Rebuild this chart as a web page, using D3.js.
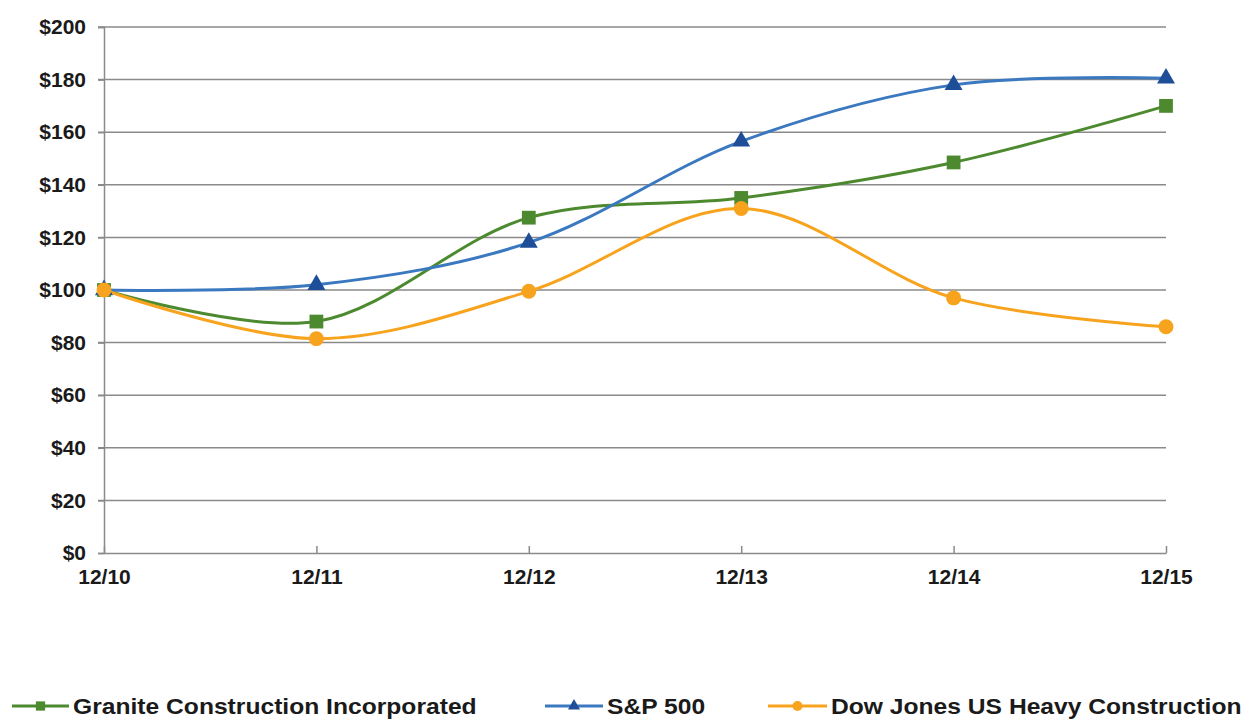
<!DOCTYPE html>
<html>
<head>
<meta charset="utf-8">
<script src="https://cdn.jsdelivr.net/npm/d3@7"></script>
<style>
  body { margin: 0; background: #fff; }
  text { font-family: "Liberation Sans", Arial, sans-serif; }
</style>
</head>
<body>
<svg id="chart" width="1252" height="721"></svg>
<script>
// categories and series
const years = ["12/10", "12/11", "12/12", "12/13", "12/14", "12/15"];
const granite = [100, 88, 127.5, 135, 148.5, 170];
const sp500 = [100, 102, 118, 156.5, 178, 180.5];
const dowJones = [100, 81.5, 99.5, 131, 97, 86];
const yTicks = [0, 20, 40, 60, 80, 100, 120, 140, 160, 180, 200];

const series = [
  { name: "Granite Construction Incorporated", values: granite, line: "#4d8a2f", marker: "#4d8a2f", shape: "square" },
  { name: "S&P 500", values: sp500, line: "#3a78c0", marker: "#1f4e99", shape: "triangle" },
  { name: "Dow Jones US Heavy Construction", values: dowJones, line: "#f8a31d", marker: "#f8a31d", shape: "circle" }
];

const margin = { top: 27, left: 104, right: 86, bottom: 168 };
const width = 1252, height = 721;
const innerWidth = width - margin.left - margin.right;
const innerHeight = height - margin.top - margin.bottom;

const svg = d3.select("#chart");
const g = svg.append("g").attr("transform", `translate(${margin.left},${margin.top})`);

const x_Scale = d3.scalePoint().domain(years).range([0, innerWidth]);
const y_Scale = d3.scaleLinear().domain([0, 200]).range([innerHeight, 0]);

// gridlines
g.selectAll(".grid")
  .data(yTicks.filter(d => d > 0))
  .join("line")
  .attr("class", "grid")
  .attr("x1", -6).attr("x2", innerWidth)
  .attr("y1", d => y_Scale(d)).attr("y2", d => y_Scale(d))
  .attr("stroke", "#8a8a8a").attr("stroke-width", 1.5);

// Y axis
const yAxis = g.append("g")
  .call(d3.axisLeft(y_Scale).tickValues(yTicks).tickFormat(d => "$" + d).tickSize(6).tickPadding(12));
yAxis.select(".domain").attr("stroke", "#8a8a8a").attr("stroke-width", 1.5);
yAxis.selectAll(".tick line").attr("stroke", "#8a8a8a").attr("stroke-width", 1.5);
yAxis.selectAll("text")
  .attr("font-size", 21).attr("font-weight", "bold").attr("fill", "#1a1a1a")
  .attr("font-family", "'Liberation Sans', Arial, sans-serif");

// X axis (ticks point inward)
const xAxis = g.append("g")
  .attr("transform", `translate(0,${innerHeight})`)
  .call(d3.axisBottom(x_Scale).tickSizeInner(-7).tickSizeOuter(0).tickPadding(16));
xAxis.select(".domain").attr("stroke", "#8a8a8a").attr("stroke-width", 1.5);
xAxis.selectAll(".tick line").attr("stroke", "#8a8a8a").attr("stroke-width", 1.5);
xAxis.selectAll("text")
  .attr("font-size", 21).attr("font-weight", "bold").attr("fill", "#1a1a1a")
  .attr("font-family", "'Liberation Sans', Arial, sans-serif");

const symbolFor = {
  square: d3.symbolSquare,
  triangle: d3.symbolTriangle,
  circle: d3.symbolCircle
};
const sizeFor = { square: 190, triangle: 140, circle: 175 };

// lines
const lineGen = d3.line()
  .x((d, i) => x_Scale(years[i]))
  .y(d => y_Scale(d))
  .curve(d3.curveCatmullRom.alpha(0.5));

series.forEach(s => {
  g.append("path")
    .attr("d", lineGen(s.values))
    .attr("fill", "none")
    .attr("stroke", s.line)
    .attr("stroke-width", 3);
});

series.forEach(s => {
  g.selectAll(null)
    .data(s.values)
    .join("path")
    .attr("transform", (d, i) => `translate(${x_Scale(years[i])},${y_Scale(d)})`)
    .attr("d", d3.symbol().type(symbolFor[s.shape]).size(sizeFor[s.shape]))
    .attr("fill", s.marker);
});

// legend
const legendItems = [
  { x: 12, lineLen: 57 },
  { x: 545, lineLen: 58 },
  { x: 768, lineLen: 59 }
];
const legend = svg.append("g").attr("transform", "translate(0,706)");
series.forEach((s, i) => {
  const it = legend.append("g").attr("transform", `translate(${legendItems[i].x},0)`);
  const L = legendItems[i].lineLen;
  it.append("line").attr("x1", 0).attr("x2", L).attr("y1", 0).attr("y2", 0)
    .attr("stroke", s.line).attr("stroke-width", 3);
  it.append("path")
    .attr("transform", `translate(${L / 2},0)`)
    .attr("d", d3.symbol().type(symbolFor[s.shape]).size(sizeFor[s.shape] * 0.45))
    .attr("fill", s.marker);
  it.append("text")
    .attr("transform", `translate(${L + 4},0) scale(1.12,1)`)
    .attr("dy", "0.36em")
    .attr("font-size", 22).attr("font-weight", "bold").attr("fill", "#1a1a1a")
    .text(s.name);
});
</script>
</body>
</html>
